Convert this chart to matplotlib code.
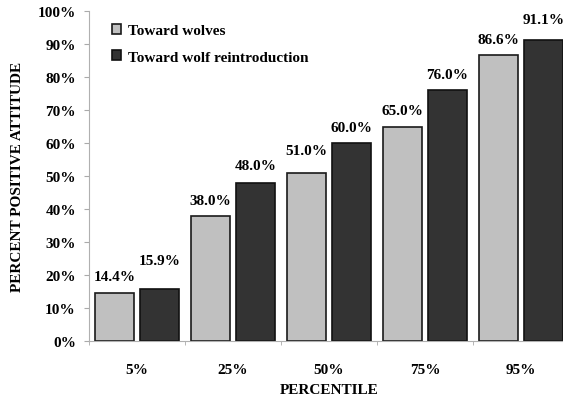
import matplotlib
matplotlib.use("Agg")
import matplotlib.pyplot as plt
import numpy as np

# data
percentiles = ["5%", "25%", "50%", "75%", "95%"]
toward_wolves = [14.4, 38.0, 51.0, 65.0, 86.6]
toward_reintro = [15.9, 48.0, 60.0, 76.0, 91.1]
series_names = ["Toward wolves", "Toward wolf reintroduction"]

# label heights above bar tops (points), the original staggers a few
off_wolves = [12, 11, 16, 11.5, 11.5]
off_reintro = [20, 12, 11.5, 11, 15]

plt.rcParams["font.family"] = ["Liberation Serif", "DejaVu Serif"]
plt.rcParams["font.weight"] = "bold"

fig = plt.figure(figsize=(5.63, 4.02), dpi=100)
ax = fig.add_axes([89/563, 60/402, 480/563, 330/402])

x = np.arange(len(percentiles))
w = 0.41
d = 0.232
b1 = ax.bar(x - d, toward_wolves, w, color="#c0c0c0", edgecolor="#1a1a1a",
            linewidth=1.2, label=series_names[0])
b2 = ax.bar(x + d, toward_reintro, w, color="#333333", edgecolor="#111111",
            linewidth=1.2, label=series_names[1])

for bars, vals, offs in [(b1, toward_wolves, off_wolves), (b2, toward_reintro, off_reintro)]:
    for r, v, o in zip(bars, vals, offs):
        ax.annotate("%.1f%%" % v, (r.get_x() + r.get_width()/2, v),
                    xytext=(0, o), textcoords="offset points",
                    ha="center", va="center", fontsize=11, fontweight="bold")

ax.set_xlim(-0.5, 4.5)
ax.set_ylim(0, 100)
ax.set_yticks(range(0, 101, 10))
ax.set_yticklabels(["%d%%" % t for t in range(0, 101, 10)])
ax.set_xticks(x)
ax.set_xticklabels(percentiles)
ax.set_xticks(np.arange(-0.5, 5, 1), minor=True)
ax.tick_params(axis="x", which="major", length=0, pad=16, labelsize=11)
ax.tick_params(axis="x", which="minor", length=3, color="#aaaaaa", direction="out")
ax.tick_params(axis="y", length=3.5, color="#aaaaaa", pad=6, labelsize=11)

for s in ["top", "right"]:
    ax.spines[s].set_visible(False)
for s in ["left", "bottom"]:
    ax.spines[s].set_color("#b0b0b0")
    ax.spines[s].set_linewidth(0.8)

ax.set_xlabel("PERCENTILE", fontsize=11, fontweight="bold", labelpad=5)
ax.set_ylabel("PERCENT POSITIVE ATTITUDE", fontsize=11, fontweight="bold", labelpad=10)

leg = ax.legend(loc="upper left", bbox_to_anchor=(0.048, 0.96), frameon=False,
                borderpad=0, borderaxespad=0, handlelength=0.6, handleheight=0.6,
                handletextpad=0.45, labelspacing=0.85, prop={"size": 11, "weight": "bold"})

fig.savefig("out.png", dpi=100)
